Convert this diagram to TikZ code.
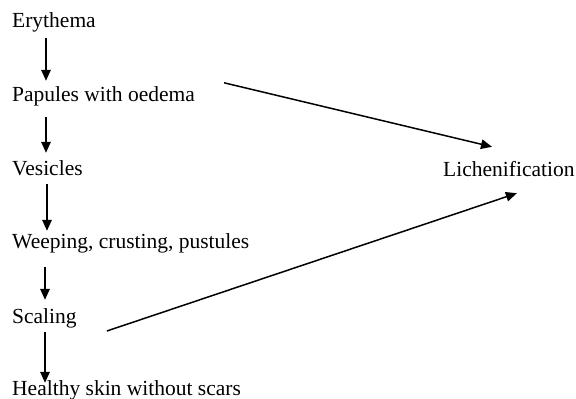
\documentclass[tikz,border=0pt]{standalone}
\usepackage{fontspec}
\setmainfont{Liberation Serif}
\usetikzlibrary{arrows.meta,positioning,calc}

\begin{document}
\begin{tikzpicture}[x=1pt,y=-1pt,
    stage/.style={anchor=base west,inner sep=2pt,text height=15pt,text depth=7pt,
      font=\fontsize{21.5}{25}\selectfont},
    arr/.style={line width=1.5pt,-{Triangle[length=11pt,width=9.5pt]}}]
    \useasboundingbox (0,0) rectangle (576,399);
    % stages of the eczema
    \node[stage] (ery) at (10,27.5) {Erythema};
    \node[stage] (pap) at (10,101) {Papules with oedema};
    \node[stage] (ves) at (10,175) {Vesicles};
    \node[stage] (wee) at (10,248) {Weeping, crusting, pustules};
    \node[stage] (sca) at (10,323) {Scaling};
    \node[stage] (hea) at (10,395) {Healthy skin without scars};
    \node[stage] (lic) at (441,176) {Lichenification};
    % downward arrows
    \draw[arr] ([xshift=36pt,yshift=-1pt]ery.south west) -- ([xshift=36pt,yshift=3pt]pap.north west);
    \draw[arr] ([xshift=36pt,yshift=-7pt]pap.south west) -- ([xshift=36pt,yshift=5pt]ves.north west);
    \draw[arr] ([xshift=37pt]ves.south west) -- ([xshift=37pt]wee.north west);
    \draw[arr] ([xshift=35pt,yshift=-10pt]wee.south west) -- ([xshift=35pt,yshift=6pt]sca.north west);
    \draw[arr] ([xshift=35pt]sca.south west) -- ([xshift=35pt,yshift=-5pt]hea.north west);
    % to lichenification
    \draw[arr] ([xshift=27pt,yshift=1pt]pap.north east) -- ([xshift=51pt,yshift=12pt]lic.north west);
    \draw[arr] ([xshift=28pt,yshift=-12pt]sca.east) -- ([xshift=8pt,yshift=-8pt]lic.south);
  \end{tikzpicture}
\end{document}
